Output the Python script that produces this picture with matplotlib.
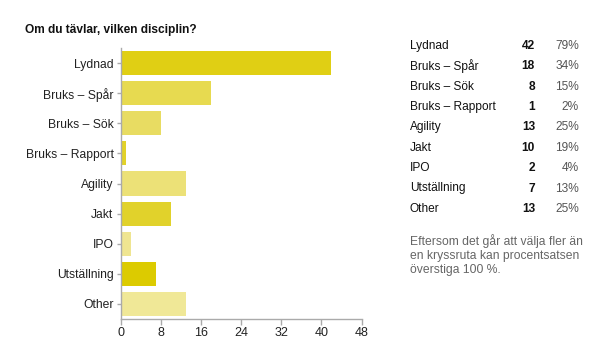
import matplotlib.pyplot as plt

plt.rcParams['font.family'] = ['Liberation Sans', 'DejaVu Sans']

title = 'Om du tävlar, vilken disciplin?'
categories = ['Lydnad', 'Bruks – Spår', 'Bruks – Sök', 'Bruks – Rapport', 'Agility',
              'Jakt', 'IPO', 'Utställning', 'Other']
counts = [42, 18, 8, 1, 13, 10, 2, 7, 13]
percents = ['79%', '34%', '15%', '2%', '25%', '19%', '4%', '13%', '25%']
colors = ['#e0cf14', '#e7da50', '#e8dc62', '#e2d228', '#ece177',
          '#e1d22b', '#efe591', '#dccb00', '#f0e897']
xticks = [0, 8, 16, 24, 32, 40, 48]
note = 'Eftersom det går att välja fler än\nen kryssruta kan procentsatsen\növerstiga 100 %.'

fig = plt.figure(figsize=(6, 3.6), dpi=100)
ax = fig.add_axes([120.5 / 600, 1 - 319 / 360, 241 / 600, 271 / 360])

ypos = list(range(len(categories)))
ax.barh(ypos, counts, height=0.8, color=colors)
ax.set_ylim(len(categories) - 0.5, -0.5)
ax.set_xlim(0, 48)
ax.set_xticks(xticks)
ax.set_yticks(ypos)
ax.set_yticklabels(categories)

for s in ['top', 'right']:
    ax.spines[s].set_visible(False)
for s in ['left', 'bottom']:
    ax.spines[s].set_color('#aaaaaa')
    ax.spines[s].set_linewidth(1)
ax.tick_params(axis='y', colors='#aaaaaa', labelcolor='#222222', labelsize=8.75,
               length=3, width=1, pad=2)
ax.tick_params(axis='x', colors='#aaaaaa', labelcolor='#222222', labelsize=9,
               length=4, width=1, pad=2)

fig.text(25 / 600, 1 - 30 / 360, title, fontsize=8.6, fontweight='bold', va='center',
         color='#111111')

# table on the right
row0 = 45.7
step = 20.4
for i, (c, n, p) in enumerate(zip(categories, counts, percents)):
    y = 1 - (row0 + i * step) / 360
    fig.text(410 / 600, y, c, fontsize=8.6, va='center', color='#111111')
    fig.text(535 / 600, y, str(n), fontsize=8.6, va='center', ha='right',
             fontweight='bold', color='#111111')
    fig.text(579 / 600, y, p, fontsize=8.6, va='center', ha='right', color='#555555')

fig.text(410 / 600, 1 - 234 / 360, note, fontsize=8.75, va='top', color='#666666',
         linespacing=1.2)

fig.savefig('out.png', dpi=100)
